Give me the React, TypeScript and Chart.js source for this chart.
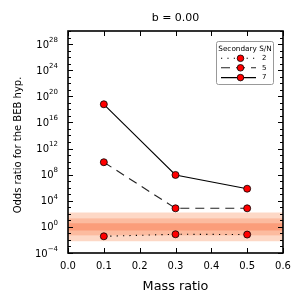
import React, { useEffect, useRef } from "react";
import { Chart, registerables } from "chart.js";
Chart.register(...registerables);

// ---- data ----
const massRatios = [0.1, 0.3, 0.5];
const sn2Odds = [3.6e-2, 7.4e-2, 6.7e-2];
const sn5Odds = [8e9, 7e2, 7e2];
const sn7Odds = [6e18, 9e7, 7e5];
const seriesLabels = ["2", "5", "7"];
const xTickValues = [0, 0.1, 0.2, 0.3, 0.4, 0.5, 0.6];
const xTickLabels = ["0.0", "0.1", "0.2", "0.3", "0.4", "0.5", "0.6"];
const yMinExp = -4;
const yMaxExp = 30;
const yMajorExponents = [-4, 0, 4, 8, 12, 16, 20, 24, 28];
const bandHalfWidthsDex = [2.2, 1.3, 0.55];

const FONT = "'DejaVu Sans', sans-serif";
const bandColors = ["#fdd8c6", "#fcbb9f", "#fb9d7a"];
const dashes = [[1.2, 5.2], [9, 6], []];
const lineColors = ["#000", "#222", "#000"];

const overlay = {
  id: "overlay",
  beforeDatasetsDraw(chart: any) {
    const { ctx, chartArea: a, scales } = chart;
    const y = scales.y;
    ctx.save();
    bandHalfWidthsDex.forEach((h, i) => {
      const t = y.getPixelForValue(Math.pow(10, h));
      const b = y.getPixelForValue(Math.pow(10, -h));
      ctx.fillStyle = bandColors[i];
      ctx.fillRect(a.left, t, a.right - a.left, b - t);
    });
    ctx.restore();
  },
  afterDatasetsDraw(chart: any) {
    const { ctx, chartArea: a, scales } = chart;
    const x = scales.x;
    const y = scales.y;
    ctx.save();
    // ticks
    ctx.strokeStyle = "#000";
    ctx.lineWidth = 1;
    ctx.beginPath();
    xTickValues.forEach((v) => {
      const px = Math.round(x.getPixelForValue(v)) + 0.5;
      ctx.moveTo(px, a.bottom);
      ctx.lineTo(px, a.bottom - 5);
      ctx.moveTo(px, a.top);
      ctx.lineTo(px, a.top + 5);
    });
    for (let k = yMinExp; k <= yMaxExp; k++) {
      const py = Math.round(y.getPixelForValue(Math.pow(10, k))) + 0.5;
      const len = yMajorExponents.includes(k) ? 5 : 3;
      ctx.moveTo(a.left, py);
      ctx.lineTo(a.left + len, py);
      ctx.moveTo(a.right, py);
      ctx.lineTo(a.right - len, py);
    }
    ctx.stroke();
    // frame
    ctx.lineWidth = 1.6;
    ctx.strokeRect(a.left, a.top, a.right - a.left, a.bottom - a.top);

    // x tick labels
    ctx.fillStyle = "#000";
    ctx.font = `10px ${FONT}`;
    ctx.textAlign = "center";
    ctx.textBaseline = "middle";
    xTickValues.forEach((v, i) => {
      ctx.fillText(xTickLabels[i], x.getPixelForValue(v), a.bottom + 13);
    });
    // y tick labels with superscript
    yMajorExponents.forEach((k) => {
      const py = y.getPixelForValue(Math.pow(10, k));
      const exp = String(k).replace("-", "\u2212");
      ctx.font = `7px ${FONT}`;
      const ew = ctx.measureText(exp).width;
      const right = a.left - 10;
      ctx.textAlign = "left";
      ctx.textBaseline = "middle";
      ctx.fillText(exp, right - ew, py - 4);
      ctx.font = `10px ${FONT}`;
      const bw = ctx.measureText("10").width;
      ctx.fillText("10", right - ew - bw, py + 1);
    });
    // titles
    ctx.textAlign = "center";
    ctx.textBaseline = "middle";
    ctx.font = `11px ${FONT}`;
    ctx.fillText("b = 0.00", (a.left + a.right) / 2, 18);
    ctx.font = `12.8px ${FONT}`;
    ctx.fillText("Mass ratio", (a.left + a.right) / 2, 287);
    ctx.save();
    ctx.translate(18, 145);
    ctx.rotate(-Math.PI / 2);
    ctx.font = `10px ${FONT}`;
    ctx.fillText("Odds ratio for the BEB hyp.", 0, 0);
    ctx.restore();

    // legend
    const lx = 216.5, ly = 41.5, lw = 57, lh = 43;
    ctx.fillStyle = "#fff";
    ctx.strokeStyle = "#999";
    ctx.lineWidth = 1;
    ctx.beginPath();
    if ((ctx as any).roundRect) (ctx as any).roundRect(lx, ly, lw, lh, 2);
    else ctx.rect(lx, ly, lw, lh);
    ctx.fill();
    ctx.stroke();
    ctx.fillStyle = "#000";
    ctx.font = `7.3px ${FONT}`;
    ctx.textAlign = "center";
    ctx.fillText("Secondary S/N", lx + lw / 2, 49);
    const rows = [58.3, 67.8, 77.6];
    seriesLabels.forEach((lab, i) => {
      const ry = rows[i];
      ctx.strokeStyle = lineColors[i];
      ctx.lineWidth = 1.1;
      ctx.setLineDash(dashes[i]);
      ctx.beginPath();
      ctx.moveTo(221, ry);
      ctx.lineTo(256, ry);
      ctx.stroke();
      ctx.setLineDash([]);
      ctx.strokeStyle = "#000";
      ctx.beginPath();
      ctx.arc(240.5, ry, 3.3, 0, Math.PI * 2);
      ctx.fillStyle = "#ff0000";
      ctx.fill();
      ctx.lineWidth = 0.8;
      ctx.stroke();
      ctx.fillStyle = "#000";
      ctx.textAlign = "left";
      ctx.font = `7px ${FONT}`;
      ctx.fillText(lab, 262, ry);
    });
    ctx.restore();
  },
};

export default function App() {
  const ref = useRef<HTMLCanvasElement>(null);
  useEffect(() => {
    if (!ref.current) return;
    const series = [sn2Odds, sn5Odds, sn7Odds];
    const chart = new Chart(ref.current, {
      type: "line",
      data: {
        datasets: series.map((vals, i) => ({
          label: seriesLabels[i],
          data: massRatios.map((m, j) => ({ x: m, y: vals[j] })),
          borderColor: lineColors[i],
          borderWidth: 1.1,
          borderDash: dashes[i],
          pointRadius: 3.5,
          pointBackgroundColor: "#ff0000",
          pointBorderColor: "#000",
          pointBorderWidth: 0.8,
          fill: false,
          tension: 0,
        })),
      },
      options: {
        responsive: false,
        animation: false,
        devicePixelRatio: 1,
        layout: { padding: { left: 68, right: 22, top: 31, bottom: 54 } },
        plugins: { legend: { display: false }, tooltip: { enabled: false }, title: { display: false } },
        scales: {
          x: { type: "linear", min: 0, max: 0.6, display: false },
          y: { type: "logarithmic", min: Math.pow(10, yMinExp), max: Math.pow(10, yMaxExp), display: false },
        },
      },
      plugins: [overlay],
    });
    return () => chart.destroy();
  }, []);
  return (
    <div style={{ position: "fixed", left: 0, top: 0, width: 305, height: 307, background: "#fff" }}>
      <canvas ref={ref} width={305} height={307} />
    </div>
  );
}
